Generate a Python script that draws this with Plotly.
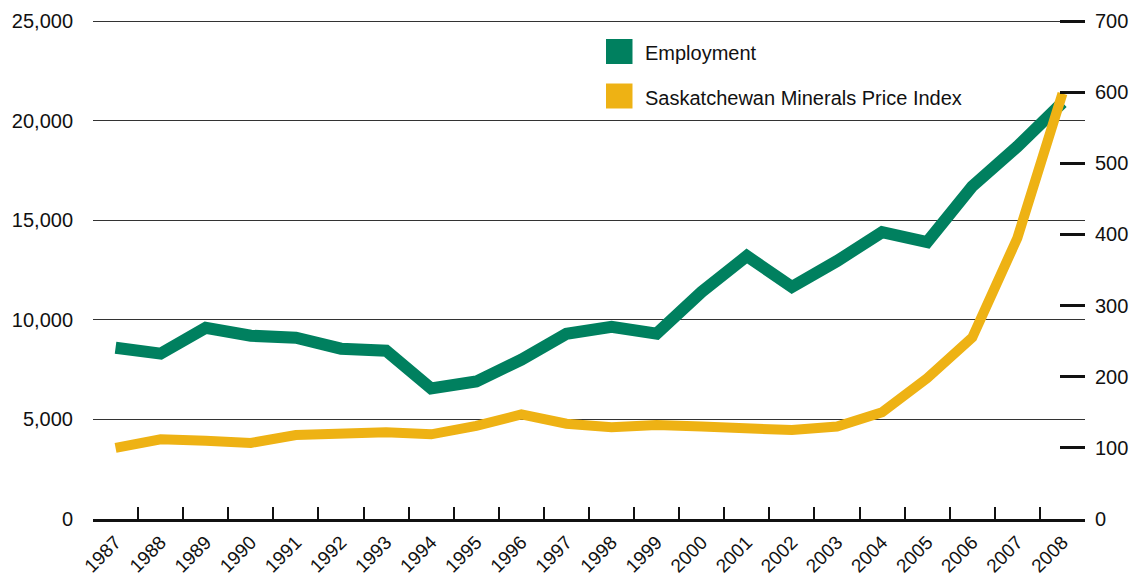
import plotly.graph_objects as go

years = [str(y) for y in range(1987, 2009)]
employment = [8600, 8300, 9600, 9200, 9100, 8550, 8450, 6550, 6900, 8000, 9300,
              9650, 9300, 11400, 13200, 11650, 12950, 14400, 13900, 16700, 18700, 20900]
price_index = [100, 112, 110, 107, 118, 121, 122, 119, 131, 147, 134,
               129, 132, 130, 127, 125, 130, 150, 198, 255, 395, 598]
series_names = ["Employment", "Saskatchewan Minerals Price Index"]
left_ticks = [0, 5000, 10000, 15000, 20000, 25000]
left_labels = ["0", "5,000", "10,000", "15,000", "20,000", "25,000"]
right_ticks = [0, 100, 200, 300, 400, 500, 600, 700]

GREEN = "#00805F"
YELLOW = "#EEB214"
FONT = "Liberation Sans, Arial, sans-serif"

# page body has an 8px default margin; size the figure so it fills the window
OFF = 8
W, H = 1138 - OFF, 575 - OFF
ML, MT = 93 - OFF, 19 - OFF
MR = W - (1085 - OFF)
MB = H - (519 - OFF)
PW, PH = W - ML - MR, H - MT - MB

# small headroom so the top gridline (25,000) is drawn
HEAD = 1.0 + 2.0 / (PH - 2.0)
Y1_MAX = 25000 * HEAD
Y2_MAX = 700 * HEAD

fig = go.Figure()
fig.add_trace(go.Scatter(x=years, y=employment, mode="lines", name=series_names[0],
                         line=dict(color=GREEN, width=12), showlegend=False))
fig.add_trace(go.Scatter(x=years, y=price_index, mode="lines", name=series_names[1],
                         line=dict(color=YELLOW, width=10), yaxis="y2", showlegend=False))


def px_x(p):
    return (p - OFF - ML) / PW


def px_y(p):
    return (H - MB - (p - OFF)) / PH


shapes = []
annotations = []
for i, (name, col) in enumerate(zip(series_names, [GREEN, YELLOW])):
    top = 39 + i * 44.5
    shapes.append(dict(type="rect", xref="paper", yref="paper",
                       x0=px_x(606), x1=px_x(632.5), y0=px_y(top + 25), y1=px_y(top),
                       fillcolor=col, line=dict(width=0)))
    annotations.append(dict(xref="paper", yref="paper", x=px_x(643), y=px_y(top + 14),
                            text=name, showarrow=False, xanchor="left", yanchor="middle",
                            font=dict(family=FONT, size=20, color="#111")))

fig.update_layout(
    width=W, height=H,
    margin=dict(l=ML, r=MR, t=MT, b=MB, autoexpand=False),
    paper_bgcolor="white", plot_bgcolor="white",
    font=dict(family=FONT, size=20, color="#111"),
    shapes=shapes, annotations=annotations,
    xaxis=dict(type="category", tickson="boundaries", ticks="inside", ticklen=12,
               tickwidth=2, tickcolor="#111", showline=True, linecolor="#111", linewidth=2.5,
               showgrid=False, tickangle=-45, tickfont=dict(size=19), ticklabelstandoff=2,
               range=[-0.5, len(years) - 0.5], automargin=False),
    yaxis=dict(range=[0, Y1_MAX], tickvals=left_ticks, ticktext=left_labels,
               showgrid=True, gridcolor="#333", gridwidth=1.3, zeroline=False,
               showline=False, ticks="", ticklabelstandoff=19, automargin=False),
    yaxis2=dict(range=[0, Y2_MAX], tickvals=right_ticks, overlaying="y", side="right",
                showgrid=False, zeroline=False, showline=False, ticks="inside",
                ticklen=25, tickwidth=2.5, tickcolor="#111", ticklabelstandoff=9,
                automargin=False),
)

fig.write_html("out.html")
